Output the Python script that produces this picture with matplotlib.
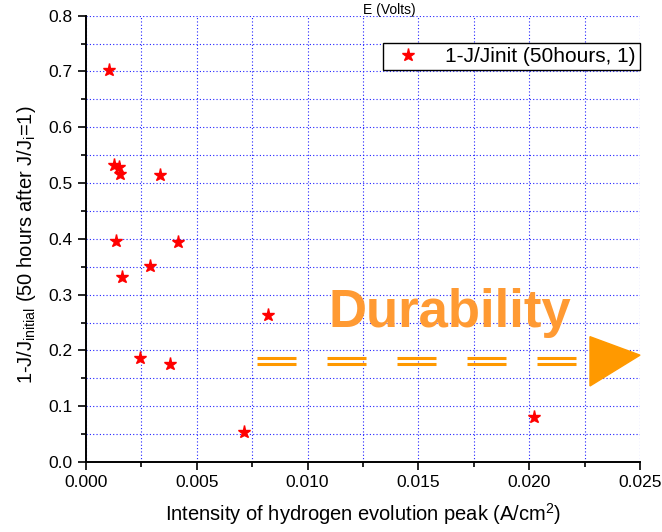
import numpy as np
import matplotlib
matplotlib.use('Agg')
import matplotlib.pyplot as plt
from matplotlib.ticker import MultipleLocator, FormatStrFormatter
from matplotlib.patches import Polygon

plt.rcParams['font.family'] = ['Liberation Sans', 'DejaVu Sans']
plt.rcParams['mathtext.default'] = 'regular'

# hydrogen evolution peak intensity (A/cm2) vs. loss after 50 h
peak = [0.00105, 0.00126, 0.00150, 0.00154, 0.00334, 0.00136, 0.00414,
        0.00289, 0.00161, 0.00244, 0.00379, 0.00714, 0.00820, 0.0202]
loss = [0.702, 0.532, 0.528, 0.517, 0.514, 0.397, 0.394,
        0.352, 0.331, 0.186, 0.176, 0.054, 0.263, 0.081]
series_name = '1-J/Jinit (50hours, 1)'

fig = plt.figure(figsize=(6.62, 5.32), dpi=100)
ax = fig.add_axes([0.1299, 0.1316, 0.8369, 0.8389])

ax.plot(peak, loss, ls='none', marker='*', ms=9.5, color='red',
        mec='red', label=series_name, zorder=5)

ax.set_xlim(0, 0.025)
ax.set_ylim(0, 0.8)
ax.xaxis.set_major_locator(MultipleLocator(0.005))
ax.xaxis.set_minor_locator(MultipleLocator(0.0025))
ax.yaxis.set_major_locator(MultipleLocator(0.1))
ax.yaxis.set_minor_locator(MultipleLocator(0.05))
ax.xaxis.set_major_formatter(FormatStrFormatter('%.3f'))
ax.yaxis.set_major_formatter(FormatStrFormatter('%.1f'))

for s in ['top', 'right']:
    ax.spines[s].set_visible(False)
for s in ['left', 'bottom']:
    ax.spines[s].set_linewidth(1.4)

ax.tick_params(which='major', direction='out', length=6, width=1.2, labelsize=12.5)
ax.tick_params(which='minor', direction='out', length=3.5, width=1.2)

ax.grid(which='both', color='#2020ff', ls=(0, (1, 2)), lw=0.8)
ax.set_axisbelow(True)

ax.set_xlabel('Intensity of hydrogen evolution peak (A/cm$^2$)', fontsize=14.5, labelpad=8)
ax.set_ylabel('1-J/J$_{initial}$ (50 hours after J/J$_{i}$=1)', fontsize=14.5)
ax.yaxis.set_label_coords(-0.087, 0.486)

leg = ax.legend(loc='upper right', bbox_to_anchor=(1.0, 0.9395), borderaxespad=0,
                fancybox=False, framealpha=1, edgecolor='black', fontsize=15,
                handlelength=2.0, handletextpad=0.8, borderpad=0.2)
leg.get_frame().set_linewidth(1.0)

fig.text(0.588, 0.982, 'E (Volts)', fontsize=10, ha='center', va='center')

# durability annotation
ax.text(0.437, 0.3025, 'Durability', transform=ax.transAxes, fontsize=38,
        fontweight='bold', color='#ff9a33', ha='left', va='baseline', zorder=6)
for k in range(5):
    x0 = 0.308 + k * 0.1264
    for yy in (0.2337, 0.2196):
        ax.plot([x0, x0 + 0.071], [yy, yy], transform=ax.transAxes,
                color='#ff9900', lw=2.2, solid_capstyle='butt', zorder=6)
ax.add_patch(Polygon([[0.9097, 0.2808], [0.9097, 0.1703], [1.0, 0.2394]],
                     closed=True, transform=ax.transAxes, color='#ff9900',
                     clip_on=False, zorder=6))

plt.savefig('out.png', dpi=100)
